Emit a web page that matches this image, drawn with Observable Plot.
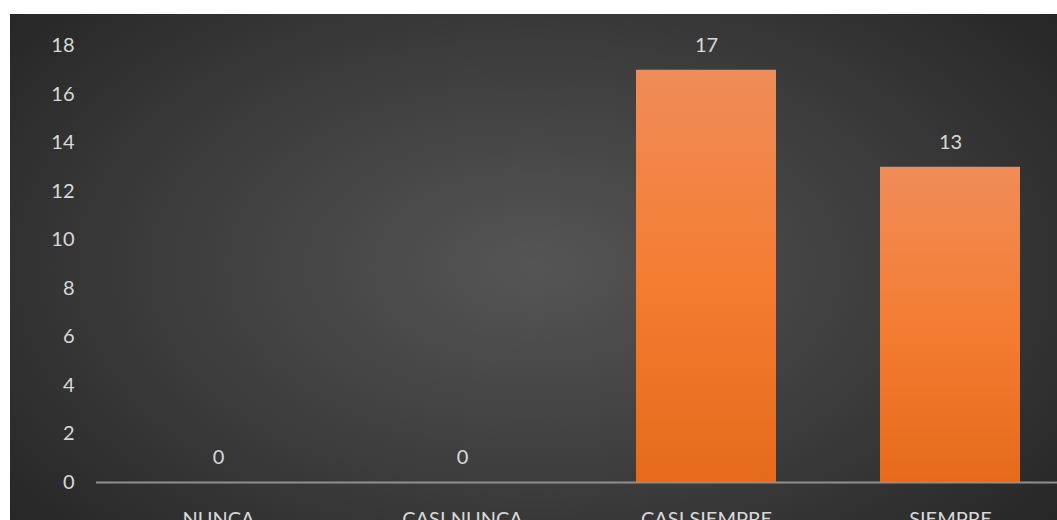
<!DOCTYPE html>
<html>
<head>
<meta charset="utf-8">
<script src="https://cdn.jsdelivr.net/npm/d3@7"></script>
<script src="https://cdn.jsdelivr.net/npm/@observablehq/plot@0.6"></script>
<style>
  html, body { margin: 0; padding: 0; background: #ffffff; overflow: hidden; }
  #wrap {
    position: absolute; left: 10px; top: 14px; width: 1047px; height: 506px; overflow: hidden;
    background: radial-gradient(ellipse 65% 80% at 50% 50%, #555555 0%, #3c3c3c 55%, #262626 100%);
  }
  #wrap svg { display: block; background: transparent; max-width: none !important; }
</style>
</head>
<body>
<div id="wrap"></div>
<script>
const categories = ["NUNCA", "CASI NUNCA", "CASI SIEMPRE", "SIEMPRE"];
const values = [0, 0, 17, 13];
const yTicks = [0, 2, 4, 6, 8, 10, 12, 14, 16, 18];

const data = categories.map((c, i) => ({category: c, value: values[i]}));
const textColor = "#d9d9d9";

const chart = Plot.plot({
  width: 1062,
  height: 530,
  marginLeft: 86,
  marginRight: 0,
  marginTop: 31.5,
  marginBottom: 62,
  style: {fontFamily: "Lato, 'Open Sans', sans-serif", fontSize: "20px", color: textColor, background: "transparent", maxWidth: "none"},
  x: {domain: categories, paddingInner: 0.426, paddingOuter: 0.213, label: null},
  y: {domain: [0, 18], label: null},
  marks: [
    Plot.axisY({ticks: yTicks, tickSize: 0, tickPadding: 22, label: null, fill: textColor, fontSize: 20}),
    Plot.axisX({tickSize: 0, tickPadding: 29, label: null, fill: textColor, fontSize: 20}),
    Plot.barY(data, {x: "category", y: "value", fill: "url(#barGrad)", style: {filter: "drop-shadow(0px 0px 6px rgba(0,0,0,0.55))"}}),
    Plot.ruleY([0], {stroke: "#8f8f8f", strokeWidth: 2}),
    Plot.text(data, {x: "category", y: "value", text: d => String(d.value), dy: -25, fill: textColor, fontSize: 20})
  ]
});

const ns = "http://www.w3.org/2000/svg";
const defs = document.createElementNS(ns, "defs");
defs.innerHTML = `<linearGradient id="barGrad" x1="0" y1="0" x2="0" y2="1">
  <stop offset="0%" stop-color="#f08c58"/>
  <stop offset="50%" stop-color="#f47d33"/>
  <stop offset="100%" stop-color="#e66a1a"/>
</linearGradient>`;
chart.insertBefore(defs, chart.firstChild);
document.getElementById("wrap").appendChild(chart);
</script>
</body>
</html>
